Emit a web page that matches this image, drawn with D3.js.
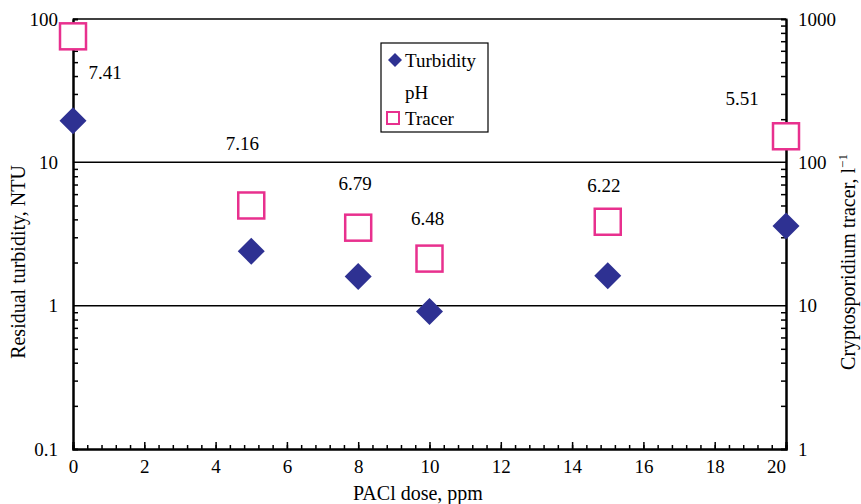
<!DOCTYPE html>
<html>
<head>
<meta charset="utf-8">
<script src="https://cdn.jsdelivr.net/npm/d3@7"></script>
<style>
  body { margin: 0; background: #fff; }
</style>
</head>
<body>
<svg id="chart" width="861" height="504" font-family="Liberation Serif"></svg>
<script>
// data
const doses = [0, 5, 8, 10, 15, 20];
const turbidity = [19.5, 2.4, 1.6, 0.91, 1.62, 3.6];
const tracer = [757, 50, 35, 21.3, 38.5, 152];
const phValues = ["7.41", "7.16", "6.79", "6.48", "6.22", "5.51"];
const leftTicks = [0.1, 1, 10, 100];
const rightTicks = [1, 10, 100, 1000];
const xTicks = [0, 2, 4, 6, 8, 10, 12, 14, 16, 18, 20];

const svg = d3.select('#chart');
const navy = "#2e3192", pink = "#e8308e";
const serif = "Liberation Serif";

const x = d3.scaleLinear().domain([0, 20]).range([73, 786]);
const yL = d3.scaleLog().domain([0.1, 100]).range([449, 19]);
const yR = d3.scaleLog().domain([1, 1000]).range([449, 19]);

function minors(lo, hi) {
    var out = [];
    for (var p = lo; p < hi; p *= 10)
        for (var k = 2; k <= 9; k++) out.push(p * k);
    return out;
}

// gridlines at 1 and 10
svg.append("g").selectAll("line")
    .data([1, 10])
    .join("line")
    .attr("x1", x(0)).attr("x2", x(20))
    .attr("y1", d => yL(d)).attr("y2", d => yL(d))
    .attr("stroke", "#000").attr("stroke-width", 1.5);

// left axis
const gl = svg.append("g").attr("transform", "translate(" + x(0) + ",0)");
gl.call(d3.axisLeft(yL).tickValues(minors(0.1, 100)).tickSize(-5).tickFormat(""));
gl.append("g").call(d3.axisLeft(yL).tickValues(leftTicks).tickSize(0).tickPadding(15)
    .tickFormat(d => d3.format("~g")(d)));

// right axis
const gr = svg.append("g").attr("transform", "translate(" + x(20) + ",0)");
gr.call(d3.axisRight(yR).tickValues(minors(1, 1000)).tickSize(-5).tickFormat(""));
gr.append("g").call(d3.axisRight(yR).tickValues(rightTicks).tickSize(0).tickPadding(12)
    .tickFormat(d => d3.format("~g")(d)));

// bottom axis
const gb = svg.append("g").attr("transform", "translate(0," + yL(0.1) + ")");
gb.call(d3.axisBottom(x).tickValues(d3.range(0, 20.01, 0.4)).tickSize(-4).tickFormat(""));
const gbm = gb.append("g").call(d3.axisBottom(x).tickValues(xTicks).tickSize(-7).tickPadding(11));
// last label sits a little inside the frame
gbm.selectAll(".tick text").filter(d => d === 20).attr("dx", -10);

// top border
svg.append("line")
    .attr("x1", x(0)).attr("x2", x(20)).attr("y1", yL(100)).attr("y2", yL(100))
    .attr("stroke", "#000").attr("stroke-width", 1.5);

svg.selectAll(".domain").attr("stroke", "#000").attr("stroke-width", 2);
svg.selectAll(".tick line").attr("stroke", "#000").attr("stroke-width", 1.5);
svg.selectAll("g").attr("font-family", serif);
svg.selectAll(".tick text").attr("font-size", 19).attr("fill", "#000")
    .attr("font-family", serif);

// axis titles
svg.append("text")
    .attr("transform", "translate(25,262) rotate(-90)")
    .attr("text-anchor", "middle").attr("font-size", 20)
    .attr("font-family", serif)
    .text("Residual turbidity, NTU");

const rt = svg.append("text")
    .attr("transform", "translate(855,262) rotate(-90)")
    .attr("text-anchor", "middle").attr("font-size", 20)
    .attr("font-family", serif);
rt.append("tspan").text("Cryptosporidium tracer, l");
rt.append("tspan").attr("font-size", 13).attr("dy", -8).text("\u22121");

svg.append("text")
    .attr("x", 418).attr("y", 500)
    .attr("text-anchor", "middle").attr("font-size", 20)
    .attr("font-family", serif)
    .text("PACl dose, ppm");

// markers
const pts = doses.map((d, i) => ({ dose: d, turb: turbidity[i], tr: tracer[i], ph: phValues[i] }));
const sq = 26, dm = 13.5;

svg.append("g").selectAll("path")
    .data(pts)
    .join("path")
    .attr("d", d => {
        var cx = x(d.dose), cy = yL(d.turb);
        return "M" + cx + "," + (cy - dm) + "L" + (cx + dm) + "," + cy +
            "L" + cx + "," + (cy + dm) + "L" + (cx - dm) + "," + cy + "Z";
    })
    .attr("fill", navy);

svg.append("g").selectAll("rect")
    .data(pts)
    .join("rect")
    .attr("x", d => x(d.dose) - sq / 2)
    .attr("y", d => yR(d.tr) - sq / 2)
    .attr("width", sq).attr("height", sq)
    .attr("fill", "#fff").attr("stroke", pink).attr("stroke-width", 2.5);

// pH labels, placed by hand next to the tracer marks
const phOffsets = [[32, 36], [-9, -62], [-3, -44], [-2, -40], [-4, -36], [-44, -38]];
svg.append("g").selectAll("text")
    .data(pts)
    .join("text")
    .attr("x", (d, i) => x(d.dose) + phOffsets[i][0])
    .attr("y", (d, i) => yR(d.tr) + phOffsets[i][1])
    .attr("dy", "0.35em")
    .attr("text-anchor", "middle").attr("font-size", 19)
    .attr("font-family", serif)
    .text(d => d.ph);

// legend
const lg = svg.append("g");
lg.append("rect").attr("x", 381).attr("y", 43).attr("width", 107).attr("height", 89)
    .attr("fill", "#fff").attr("stroke", "#000").attr("stroke-width", 1.2);
lg.append("path").attr("d", "M395,53L402,60L395,67L388,60Z").attr("fill", navy);
lg.append("rect").attr("x", 387).attr("y", 112).attr("width", 12).attr("height", 12)
    .attr("fill", "#fff").attr("stroke", pink).attr("stroke-width", 2);
lg.selectAll("text")
    .data([["Turbidity", 60], ["pH", 92], ["Tracer", 118]])
    .join("text")
    .attr("x", 405).attr("y", d => d[1]).attr("dy", "0.35em")
    .attr("font-size", 19)
    .attr("font-family", serif)
    .text(d => d[0]);
</script>
</body>
</html>
